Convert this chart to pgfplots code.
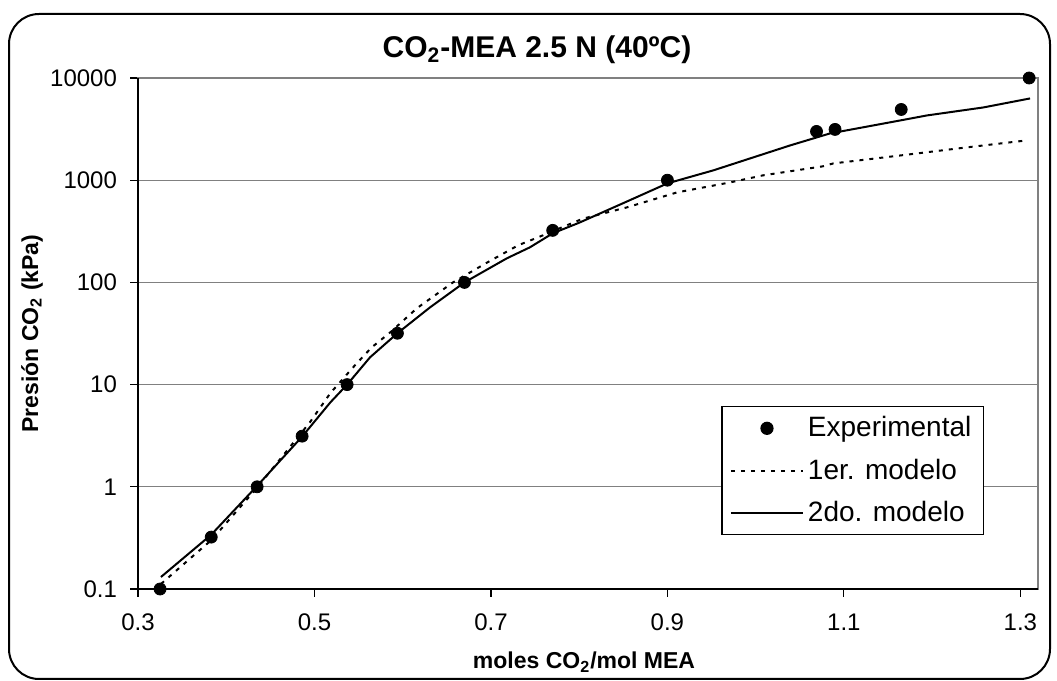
\documentclass[border=0pt]{standalone}
\usepackage{pgfplots}
\pgfplotsset{compat=1.18}
\usepackage{fontspec}
\setmainfont{Liberation Sans}
\begin{document}
\begin{tikzpicture}
\useasboundingbox (0pt,0pt) rectangle (528.5pt,340.5pt);
\draw[line width=1pt, rounded corners=15pt] (4.5pt,1pt) rectangle (525pt,333.5pt);
\node[font=\fontsize{15}{18}\selectfont\bfseries] at (268.5pt,315.5pt) {CO\textsubscript{2}-MEA 2.5 N (40ºC)};
\begin{axis}[
  at={(69pt,46pt)}, anchor=south west,
  scale only axis, width=450pt, height=255.5pt,
  xmin=0.3, xmax=1.32, ymode=log, ymin=0.1, ymax=10000,
  xtick={0.3,0.5,0.7,0.9,1.1,1.3}, xticklabels={0.3,0.5,0.7,0.9,1.1,1.3},
  ytick={0.1,1,10,100,1000,10000}, yticklabels={0.1,1,10,100,1000,10000},
  yminorticks=false,
  tick pos=left, tick align=outside, major tick length=4pt,
  ymajorgrids, grid style={draw=gray, line width=0.6pt},
  axis line style={draw=gray, line width=0.8pt},
  tick style={black, line width=0.6pt},
  /pgf/number format/assume math mode=true,
  ticklabel style={font=\fontsize{12}{14}\selectfont},
  xticklabel style={yshift=-5pt},
  yticklabel style={xshift=-3pt},
  xlabel={moles CO\textsubscript{2}/mol MEA},
  ylabel={Presión CO\textsubscript{2} (kPa)},
  every axis x label/.style={at={(axis description cs:0.5,0)}, anchor=center, yshift=-36.5pt, xshift=-2pt, font=\fontsize{11.5}{13}\selectfont\bfseries},
  every axis y label/.style={at={(axis description cs:0,0.5)}, anchor=center, rotate=90, yshift=53pt, font=\fontsize{11.5}{13}\selectfont\bfseries},
  clip=false,
  legend image code/.code={\draw[mark repeat=2, mark phase=2, #1] plot coordinates {(0pt,0pt) (18pt,0pt) (36pt,0pt)};},
  legend style={at={(0.94,0.358)}, anchor=north east, draw=black, line width=0.6pt,
    font=\fontsize{14}{16}\selectfont, inner xsep=4pt, inner ysep=3pt, row sep=5.5pt,
    nodes={inner sep=2pt}},
  legend cell align=left,
]
\addplot[only marks, mark=*, mark size=3pt, black] coordinates {
(0.325,0.1) (0.383,0.322) (0.435,1.0) (0.486,3.13) (0.537,10) (0.594,31.8)
(0.670,100) (0.770,323) (0.900,1000) (1.069,3000) (1.090,3140) (1.165,4920) (1.310,10000)
};
\addlegendentry{Experimental}
\addplot[black, line width=1pt, dash pattern=on 2pt off 3pt, mark=none] coordinates {
(0.326,0.112) (0.367,0.228) (0.383,0.30) (0.435,0.98) (0.495,4.3) (0.518,8.25)
(0.546,15.5) (0.565,23.2) (0.586,32.5) (0.616,55.8) (0.657,100) (0.696,157)
(0.731,231) (0.756,282) (0.804,420) (0.854,542) (0.911,760) (0.971,951)
(1.008,1114) (1.076,1366) (1.088,1459) (1.164,1746) (1.239,2094) (1.307,2450)
};
\addlegendentry{1er. modelo}
\addplot[black, line width=1pt, mark=none] coordinates {
(0.326,0.131) (0.383,0.34) (0.435,1.02) (0.486,3.1) (0.518,6.7) (0.537,10)
(0.563,18.5) (0.594,31.8) (0.631,57) (0.670,100) (0.718,172) (0.744,220)
(0.770,302) (0.801,387) (0.857,635) (0.900,931) (0.952,1248) (1.039,2188)
(1.084,2865) (1.164,3846) (1.194,4300) (1.258,5150) (1.311,6310)
};
\addlegendentry{2do. modelo}
\draw[black, line width=0.8pt] (rel axis cs:0,1) -- (rel axis cs:0,0) -- (rel axis cs:1,0);
\end{axis}
\end{tikzpicture}
\end{document}
